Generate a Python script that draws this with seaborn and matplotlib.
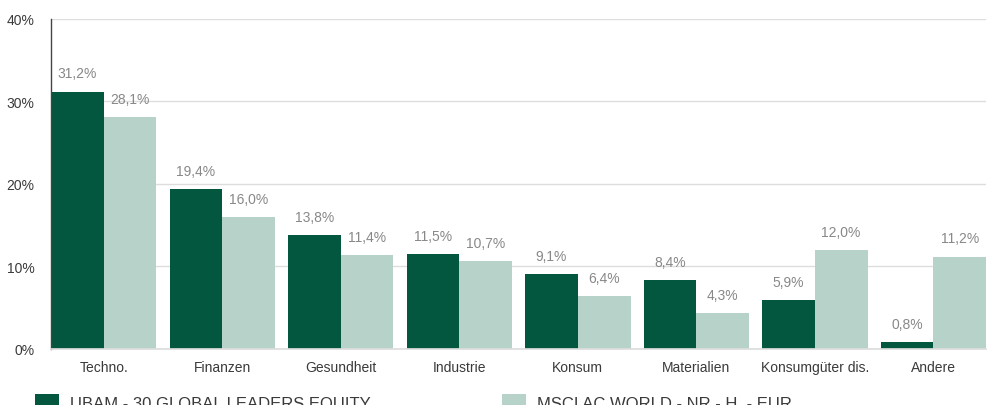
import pandas as pd
import matplotlib
matplotlib.use("Agg")
import matplotlib.pyplot as plt
import seaborn as sns

# Data
sectors = ['Techno.', 'Finanzen', 'Gesundheit', 'Industrie', 'Konsum',
           'Materialien', 'Konsumgüter dis.', 'Andere']
fund_name = 'UBAM - 30 GLOBAL LEADERS EQUITY'
index_name = 'MSCI AC WORLD - NR - H  - EUR'
fund_values = [31.2, 19.4, 13.8, 11.5, 9.1, 8.4, 5.9, 0.8]
index_values = [28.1, 16.0, 11.4, 10.7, 6.4, 4.3, 12.0, 11.2]
y_ticks = [0, 10, 20, 30, 40]

df = pd.DataFrame({
    'Sektor': sectors * 2,
    'Wert': fund_values + index_values,
    'Serie': [fund_name] * len(sectors) + [index_name] * len(sectors),
})

sns.set_theme(style="white")
plt.rcParams['font.family'] = ['Liberation Sans Narrow', 'Liberation Sans', 'DejaVu Sans']

fig = plt.figure(figsize=(9.94, 4.06), dpi=100)
ax = fig.add_axes([0.0513, 0.138, 0.9407, 0.813])

colors = ['#03573f', '#b7d3c9']
sns.barplot(data=df, x='Sektor', y='Wert', hue='Serie', palette=colors,
            width=0.89, gap=0, saturation=1, linewidth=0, ax=ax, legend=True)

# value labels
for cont in ax.containers:
    labs = [f"{v:.1f}".replace('.', ',') + '%' for v in cont.datavalues]
    ax.bar_label(cont, labels=labs, padding=8, color='#888888', fontsize=10)

ax.set_ylim(0, 40)
ax.set_xlim(-0.445, 7.445)
ax.set_yticks(y_ticks)
ax.set_yticklabels([f"{t}%" for t in y_ticks])
ax.yaxis.grid(True, color='#dddddd', linewidth=1)
ax.set_axisbelow(True)
ax.set_xlabel('')
ax.set_ylabel('')
ax.tick_params(axis='both', length=0, labelsize=10, labelcolor='#3a3a3a')
ax.tick_params(axis='x', pad=8)
ax.tick_params(axis='y', pad=12)
for s in ['top', 'right']:
    ax.spines[s].set_visible(False)
ax.spines['left'].set_color('#444444')
ax.spines['left'].set_linewidth(1)
ax.spines['bottom'].set_color('#dddddd')

# legend split in two, placed at the bottom (partly cut off like the original)
handles, labels = ax.get_legend_handles_labels()
ax.get_legend().remove()
leg_kw = dict(loc='upper left', frameon=False, fontsize=12, handlelength=1.4,
              handleheight=1.1, handletextpad=0.7, labelcolor='#3a3a3a', borderpad=0)
fig.legend([handles[0]], [labels[0]], bbox_to_anchor=(0.027, 0.048), **leg_kw)
fig.legend([handles[1]], [labels[1]], bbox_to_anchor=(0.497, 0.048), **leg_kw)

fig.savefig('out.png', dpi=100)
